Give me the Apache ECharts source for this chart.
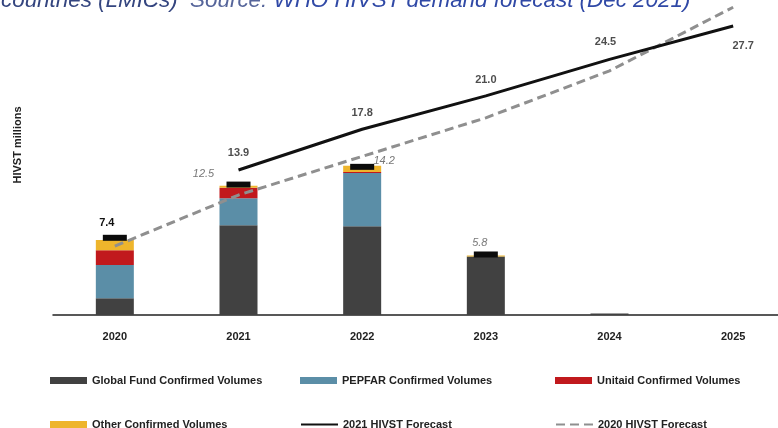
<!DOCTYPE html>
<html>
<head>
<meta charset="utf-8">
<script src="https://cdn.jsdelivr.net/npm/echarts@6/dist/echarts.min.js"></script>
<style>
  html, body { margin: 0; padding: 0; background: #fff; }
  #main { width: 778px; height: 428px; }
</style>
</head>
<body>
<div id="main"></div>
<script>
  // categories and values
  const years = ['2020', '2021', '2022', '2023', '2024', '2025'];
  const globalFund = [1.6, 8.6, 8.5, 5.6, 0.15, 0];
  const pepfar = [3.2, 2.6, 5.1, 0, 0, 0];
  const unitaid = [1.4, 1.0, 0.1, 0, 0, 0];
  const other = [1.0, 0.2, 0.6, 0.1, 0, 0];
  const confirmedTotal = [7.4, 12.5, 14.2, 5.8, '-', '-'];
  const forecast2021 = ['-', 13.9, 17.8, 21.0, 24.5, 27.7];
  const forecast2020 = [6.6, 11.5, 15.2, 18.9, 23.4, 29.5];

  const font = '"Liberation Sans", Arial, sans-serif';

  // total labels: first one bold, the others grey italic
  const totalLabelOffsets = [[-8, -15], [-35, -11], [22, -6], [-6, -12]];
  const totalData = confirmedTotal.map((v, i) => {
    if (v === '-') return v;
    const bold = i === 0;
    return {
      value: v,
      label: {
        offset: totalLabelOffsets[i],
        fontStyle: bold ? 'normal' : 'italic',
        fontWeight: bold ? 'bold' : 'normal',
        color: bold ? '#111' : '#777'
      }
    };
  });

  // labels of the 2021 forecast, placed above the line points
  const f2021LabelOffsets = [null, [0, -17], [0, -16], [0, -16], [-4, -17], [10, 20]];
  const f2021Labels = forecast2021.map((v, i) => {
    if (v === '-') return v;
    return { value: v, label: { offset: f2021LabelOffsets[i] } };
  });

  const barSeries = (name, data, color) => ({
    name: name,
    type: 'bar',
    stack: 'confirmed',
    barWidth: 38,
    itemStyle: { color: color },
    data: data
  });

  const legendItem = (name, left, top, isBar) => ({
    left: left,
    top: top,
    itemWidth: 37,
    itemHeight: 7,
    textStyle: { fontSize: 11, fontWeight: 'bold', color: '#222', fontFamily: font },
    // line items: hide the legend dot, keep the line
    data: [isBar ? { name: name, icon: 'rect' } : { name: name, itemStyle: { opacity: 0 } }]
  });

  const chart = echarts.init(document.getElementById('main'));
  chart.setOption({
    animation: false,
    backgroundColor: '#fff',
    textStyle: { fontFamily: font },
    graphic: [
      {
        type: 'text',
        left: 1,
        top: -10,
        style: {
          text: '{a|countries (LMICs)  }{b|Source: }{c|WHO HIVST demand forecast (Dec 2021)}',
          rich: {
            a: { fontSize: 22.4, fontStyle: 'italic', fontFamily: font, fill: '#34457f' },
            b: { fontSize: 22.4, fontStyle: 'italic', fontFamily: font, fill: '#56659a' },
            c: { fontSize: 22.4, fontStyle: 'italic', fontFamily: font, fill: '#3049a6' }
          }
        }
      },
      {
        type: 'text',
        x: 18,
        y: 145,
        rotation: Math.PI / 2,
        style: {
          text: 'HIVST millions',
          fontSize: 11,
          fontWeight: 'bold',
          fontFamily: font,
          fill: '#222',
          align: 'center',
          verticalAlign: 'middle'
        }
      }
    ],
    // the last category runs past the right edge, as in the source slide
    grid: { left: 53, right: -17, top: 2, bottom: 113, outerBoundsMode: 'none' },
    legend: [
      legendItem('Global Fund Confirmed Volumes', 45, 370, true),
      legendItem('PEPFAR Confirmed Volumes', 295, 370, true),
      legendItem('Unitaid Confirmed Volumes', 550, 370, true),
      legendItem('Other Confirmed Volumes', 45, 414, true),
      legendItem('2021 HIVST Forecast', 295, 414, false),
      legendItem('2020 HIVST Forecast', 550, 414, false)
    ],
    xAxis: {
      type: 'category',
      data: years,
      axisLine: { lineStyle: { color: '#222', width: 1.5 } },
      axisTick: { show: false },
      axisLabel: { fontSize: 11, fontWeight: 'bold', color: '#222', margin: 16 }
    },
    yAxis: {
      type: 'value',
      min: 0,
      max: 30,
      show: false,
      splitLine: { show: false }
    },
    series: [
      barSeries('Global Fund Confirmed Volumes', globalFund, '#414141'),
      barSeries('PEPFAR Confirmed Volumes', pepfar, '#5b8ea7'),
      barSeries('Unitaid Confirmed Volumes', unitaid, '#c1191d'),
      barSeries('Other Confirmed Volumes', other, '#eeb52c'),
      {
        name: '2020 HIVST Forecast',
        type: 'line',
        symbol: 'none',
        lineStyle: { color: '#8f8f8f', width: 3, type: [9, 5] },
        itemStyle: { color: '#8f8f8f' },
        data: forecast2020
      },
      {
        name: '2021 HIVST Forecast',
        type: 'line',
        symbol: 'none',
        lineStyle: { color: '#111', width: 3 },
        itemStyle: { color: '#111' },
        data: forecast2021
      },
      {
        name: '2021 forecast labels',
        type: 'scatter',
        symbolSize: 0,
        silent: true,
        z: 6,
        label: {
          show: true,
          position: 'inside',
          fontSize: 11,
          fontWeight: 'bold',
          color: '#222',
          formatter: p => Number(p.value).toFixed(1)
        },
        data: f2021Labels
      },
      {
        name: 'Confirmed total',
        type: 'scatter',
        symbol: 'rect',
        symbolSize: [24, 6],
        itemStyle: { color: '#0b0b0b', opacity: 1 },
        z: 5,
        label: {
          show: true,
          position: 'inside',
          fontSize: 11,
          formatter: p => Number(p.value).toFixed(1)
        },
        data: totalData
      }
    ]
  });
</script>
</body>
</html>
